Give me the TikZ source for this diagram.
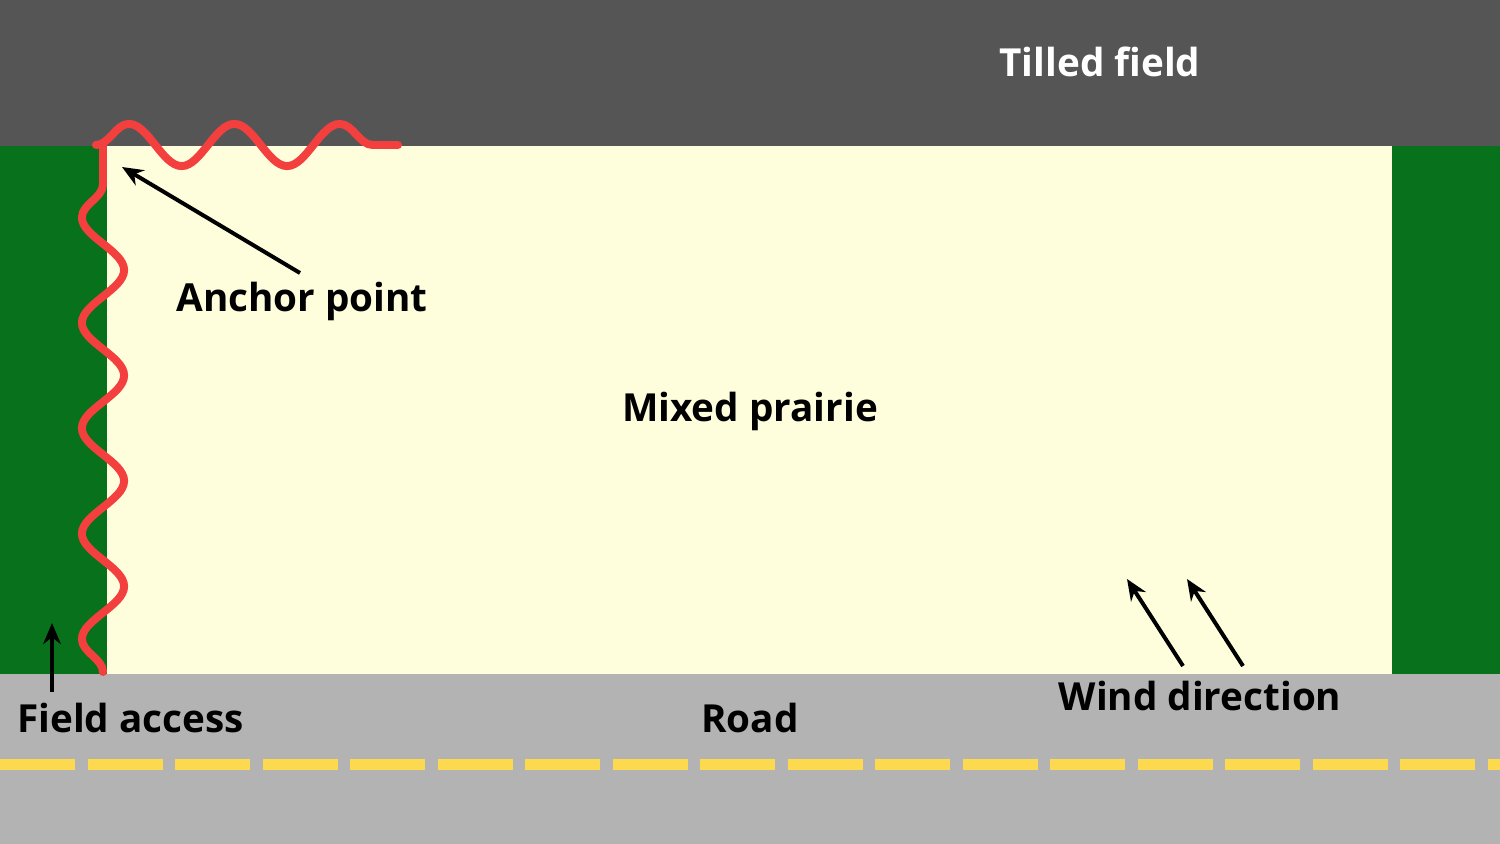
\documentclass[tikz,border=0pt]{standalone}
\usepackage{fontspec}
\setmainfont{Open Sans}
\usetikzlibrary{decorations.pathmorphing,arrows.meta}
\definecolor{tilled}{HTML}{555555}
\definecolor{grass}{HTML}{08711C}
\definecolor{prairie}{HTML}{FEFEDD}
\definecolor{road}{HTML}{B3B3B3}
\definecolor{stripe}{HTML}{FDD94F}
\definecolor{wave}{HTML}{F43F3F}
\begin{document}
\begin{tikzpicture}[x=0.02cm,y=-0.02cm,
  lbl/.style={font=\bfseries\fontsize{22}{26}\selectfont,text=black,inner sep=0},
  arr/.style={line width=4*0.567pt,-{Stealth[length=12pt,width=10pt]}},
  wv/.style={wave,line width=8*0.567pt,line cap=round,decorate,decoration={snake,segment length=60,amplitude=12}}]
\useasboundingbox (0,0) rectangle (1500,844);
\fill[tilled] (0,0) rectangle (1500,146);
\fill[grass] (0,146) rectangle (1500,674);
\fill[prairie] (107,146) rectangle (1392,674);
\fill[road] (0,674) rectangle (1500,844);
\foreach \i in {0,...,17}{\fill[stripe] (\i*87.5,759) rectangle ++(75,11);}
\draw[wv] (103,672) -- (103,146);
\draw[wv] (96,145) -- (398,145);
\node[lbl,text=white] (tf) at (1100,62) {Tilled field};
\node[lbl] (mp) at (750,411) {Mixed prairie};
\node[lbl] (ap) at (302,301) {Anchor point};
\node[lbl] (rd) at (750,718) {Road};
\node[lbl,anchor=west] (fa) at (17,718) {Field access};
\node[lbl] (wd) at (1200,696) {Wind direction};
\coordinate (a1) at (300,273); \coordinate (a2) at (122,167);
\coordinate (f1) at (52,692); \coordinate (f2) at (52,623);
\coordinate (w1) at (1183,666); \coordinate (w2) at (1127,579);
\coordinate (w3) at (1243,666); \coordinate (w4) at (1187,579);
\draw[arr] (a1) -- (a2);
\draw[arr] (f1) -- (f2);
\draw[arr] (w1) -- (w2);
\draw[arr] (w3) -- (w4);
\end{tikzpicture}
\end{document}
